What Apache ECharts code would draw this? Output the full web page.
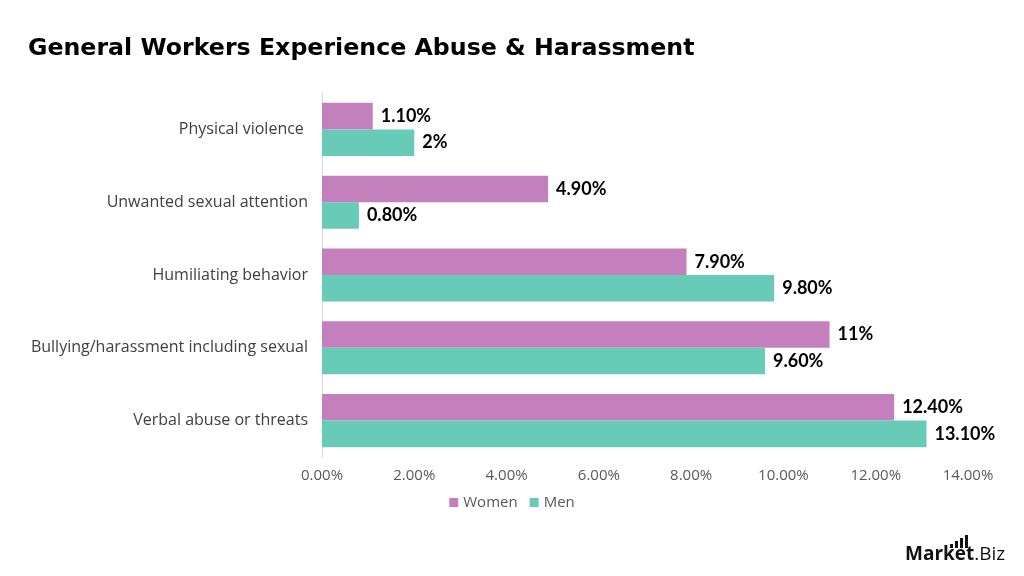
<!DOCTYPE html>
<html>
<head>
<meta charset="utf-8">
<script src="https://cdn.jsdelivr.net/npm/echarts@6/dist/echarts.min.js"></script>
<style>
  html, body { margin: 0; padding: 0; background: #fff; }
  #main { width: 1024px; height: 576px; }
</style>
</head>
<body>
<div id="main"></div>
<script>
var categories = ['Physical violence ', 'Unwanted sexual attention', 'Humiliating behavior', 'Bullying/harassment including sexual', 'Verbal abuse or threats'];
var women = [1.1, 4.9, 7.9, 11, 12.4];
var men = [2, 0.8, 9.8, 9.6, 13.1];
var womenLabels = ['1.10%', '4.90%', '7.90%', '11%', '12.40%'];
var menLabels = ['2%', '0.80%', '9.80%', '9.60%', '13.10%'];

var font = '"Open Sans", sans-serif';
var boldFont = 'Lato, sans-serif';
var myChart = echarts.init(document.getElementById('main'));

var valueLabel = {
    show: true,
    position: 'right',
    distance: 8,
    fontFamily: boldFont,
    fontWeight: 'bold',
    fontSize: 18,
    color: '#000'
};

myChart.setOption({
    backgroundColor: '#ffffff',
    animation: false,
    title: {
        text: 'General Workers Experience Abuse & Harassment',
        left: 23,
        top: 32,
        textStyle: { fontFamily: '"DejaVu Sans", sans-serif', fontWeight: 'bold', fontSize: 23.7, color: '#000' }
    },
    legend: {
        data: ['Women', 'Men'],
        top: 490,
        left: 'center',
        icon: 'rect',
        itemWidth: 9,
        itemHeight: 9,
        itemGap: 12,
        textStyle: { fontFamily: font, fontSize: 15, color: '#595959' }
    },
    grid: { left: 322, right: 56, top: 93, bottom: 119 },
    xAxis: {
        type: 'value',
        min: 0,
        max: 14,
        interval: 2,
        axisLine: { show: false },
        axisTick: { show: false },
        splitLine: { show: false },
        axisLabel: {
            margin: 11,
            fontFamily: font,
            fontSize: 15,
            color: '#595959',
            formatter: function (v) { return v.toFixed(2) + '%'; }
        }
    },
    yAxis: {
        type: 'category',
        data: categories,
        inverse: true,
        axisLine: { show: true, lineStyle: { color: '#d9d9d9' } },
        axisTick: { show: false },
        axisLabel: { margin: 14, fontFamily: font, fontSize: 16, color: '#404040' }
    },
    series: [
        {
            name: 'Women',
            type: 'bar',
            data: women,
            barGap: '0%',
            barCategoryGap: '27%',
            itemStyle: { color: '#c47fbd' },
            label: Object.assign({}, valueLabel, {
                formatter: function (p) { return womenLabels[p.dataIndex]; }
            })
        },
        {
            name: 'Men',
            type: 'bar',
            data: men,
            itemStyle: { color: '#68cbb8' },
            label: Object.assign({}, valueLabel, {
                formatter: function (p) { return menLabels[p.dataIndex]; }
            })
        }
    ],
    graphic: [
        {
            type: 'text',
            left: 905,
            top: 545,
            style: {
                text: '{a|Market}{b|.Biz}',
                rich: {
                    a: { fontFamily: font, fontWeight: 'bold', fontSize: 19, fill: '#111' },
                    b: { fontFamily: font, fontSize: 19, fill: '#111' }
                }
            }
        },
        { type: 'rect', shape: { x: 950, y: 544, width: 3, height: 4 }, style: { fill: '#111' } },
        { type: 'rect', shape: { x: 955, y: 541, width: 3, height: 7 }, style: { fill: '#111' } },
        { type: 'rect', shape: { x: 960, y: 538, width: 3, height: 10 }, style: { fill: '#111' } },
        { type: 'rect', shape: { x: 965, y: 535, width: 3, height: 13 }, style: { fill: '#111' } }
    ]
});
</script>
</body>
</html>
